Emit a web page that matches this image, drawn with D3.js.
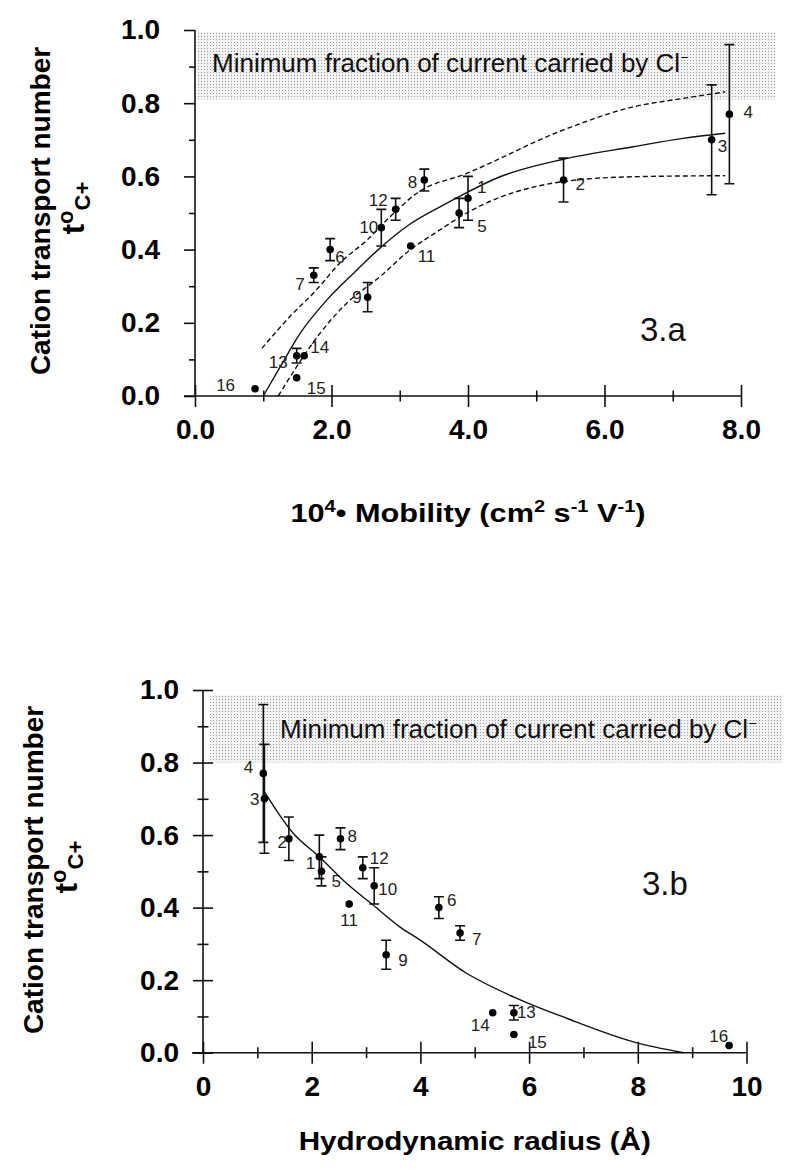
<!DOCTYPE html>
<html>
<head>
<meta charset="utf-8">
<script src="https://cdnjs.cloudflare.com/ajax/libs/d3/7.8.5/d3.min.js"></script>
<style>
  body { margin: 0; background: #fff; }
  text { font-family: Arial, "Liberation Sans", sans-serif; }
</style>
</head>
<body>
<div id="chart"></div>
<script>
// ion numbers and measured transport numbers (same for both panels)
var ionIds = [1, 2, 3, 4, 5, 6, 7, 8, 9, 10, 11, 12, 13, 14, 15, 16];
var tCation = [0.54, 0.59, 0.70, 0.77, 0.50, 0.40, 0.33, 0.59, 0.27, 0.46, 0.41, 0.51, 0.11, 0.11, 0.05, 0.02];
var tError = [0.06, 0.06, 0.15, 0.19, 0.04, 0.03, 0.02, 0.03, 0.04, 0.05, 0.005, 0.03, 0.02, 0, 0, 0];

// panel 3.a : mobility (10^4 cm2 s-1 V-1)
var mobility = [4.0, 5.4, 7.57, 7.83, 3.87, 1.98, 1.74, 3.36, 2.53, 2.73, 3.16, 2.94, 1.49, 1.6, 1.49, 0.88];
var fitMobX = [1.0, 1.25, 1.54, 1.93, 2.32, 2.71, 3.1, 3.59, 3.87, 4.47, 5.4, 6.42, 7.15, 7.77];
var fitMobY = [0.0, 0.08, 0.171, 0.262, 0.335, 0.404, 0.463, 0.517, 0.545, 0.599, 0.647, 0.681, 0.704, 0.718];
var upperMobX = [0.98, 1.39, 1.78, 2.12, 2.52, 2.86, 3.25, 3.98, 5.4, 6.42, 7.15, 7.77];
var upperMobY = [0.13, 0.217, 0.29, 0.363, 0.426, 0.49, 0.554, 0.608, 0.727, 0.79, 0.813, 0.831];
var lowerMobX = [1.22, 1.49, 1.83, 2.22, 2.71, 3.15, 3.59, 3.98, 5.4, 6.42, 7.77];
var lowerMobY = [0.0, 0.08, 0.171, 0.253, 0.326, 0.399, 0.454, 0.5, 0.586, 0.599, 0.602];

// panel 3.b : hydrodynamic radius (angstrom)
var radius = [2.14, 1.58, 1.13, 1.11, 2.18, 4.34, 4.73, 2.53, 3.37, 3.15, 2.69, 2.94, 5.72, 5.33, 5.72, 9.68];
var fitRadX = [1.11, 1.66, 2.14, 2.64, 3.13, 3.62, 3.99, 4.85, 5.71, 6.69, 7.92, 8.84];
var fitRadY = [0.724, 0.605, 0.54, 0.467, 0.407, 0.347, 0.311, 0.219, 0.154, 0.095, 0.03, 0.0];

// tick labels
var yMajor = [0.0, 0.2, 0.4, 0.6, 0.8, 1.0];
var yMinor = [0.1, 0.3, 0.5, 0.7, 0.9];
var xMajorA = [0, 2, 4, 6, 8];
var xMinorA = [1, 3, 5, 7];
var xMajorB = [0, 2, 4, 6, 8, 10];
var xMinorB = [1, 3, 5, 7, 9];

// shaded band "minimum fraction carried by Cl-"
var bandA = [0.81, 0.995];
var bandB = [0.80, 0.985];

// label offsets for the point numbers (layout only): dx, dy, anchor
var labelPosA = {
  1: [9, -5], 2: [12, 10], 3: [6, 12], 4: [14, 4], 5: [18, 19], 6: [5, 13],
  7: [-9, 15, "end"], 8: [-7, 8, "end"], 9: [-6, 6, "end"], 10: [-3, 5, "end"],
  11: [7, 16], 12: [-8, -3, "end"], 13: [-9, 12, "end"], 14: [6, -3], 15: [10, 16],
  16: [-20, 2, "end"]
};
var labelPosB = {
  1: [-4, 12, "end"], 2: [-2, 9, "end"], 3: [-5, 6, "end"], 4: [-10, 0, "end"],
  5: [10, 16], 6: [8, -2], 7: [12, 12], 8: [7, 3], 9: [12, 11], 10: [4, 9],
  11: [0, 22, "middle"], 12: [7, -4], 13: [3, 5], 14: [-3, 18, "end"], 15: [14, 13],
  16: [-1, -3, "end"]
};

var svg = d3.select("#chart")
  .append("svg")
  .attr("width", 800)
  .attr("height", 1174);

var pat = svg.append("defs").append("pattern")
  .attr("id", "dots")
  .attr("width", 3)
  .attr("height", 3)
  .attr("patternUnits", "userSpaceOnUse");
pat.append("rect").attr("width", 3).attr("height", 3).attr("fill", "#f3f3f3");
pat.append("rect").attr("width", 1).attr("height", 1).attr("fill", "#9c9c9c");

function drawPanel(p) {
  var x = d3.scaleLinear().domain(p.xDomain).range([p.left, p.right]);
  var y = d3.scaleLinear().domain([0, 1]).range([p.bottom, p.top]);
  var g = svg.append("g");

  // band
  g.append("rect")
    .attr("x", x(p.bandX[0]))
    .attr("width", x(p.bandX[1]) - x(p.bandX[0]))
    .attr("y", y(p.band[1]))
    .attr("height", y(p.band[0]) - y(p.band[1]))
    .attr("fill", "url(#dots)");

  var bandText = g.append("text")
    .attr("x", p.bandTextX)
    .attr("y", p.bandTextY)
    .attr("font-size", 26)
    .attr("fill", "#111")
    .text("Minimum fraction of current carried by Cl");
  bandText.append("tspan")
    .attr("dy", -10)
    .attr("font-size", 14)
    .text("\u2212");

  // x axis
  var xAxisMajor = d3.axisBottom(x)
    .tickValues(p.xMajor)
    .tickFormat(p.xFormat)
    .tickSize(11)
    .tickPadding(12);
  var xg = g.append("g")
    .attr("transform", `translate(0, ${p.bottom})`)
    .call(xAxisMajor);
  xg.selectAll(".tick line").attr("y1", -11);

  var xAxisMinor = d3.axisBottom(x).tickValues(p.xMinor).tickFormat("").tickSize(5.5);
  var xgm = g.append("g")
    .attr("transform", `translate(0, ${p.bottom})`)
    .call(xAxisMinor);
  xgm.selectAll(".tick line").attr("y1", -5.5);

  // y axis
  var yAxisMajor = d3.axisLeft(y)
    .tickValues(yMajor)
    .tickFormat(d3.format(".1f"))
    .tickSize(p.yCross ? 10 : 11)
    .tickPadding(p.yCross ? 14 : 24);
  var yg = g.append("g")
    .attr("transform", `translate(${p.left}, 0)`)
    .call(yAxisMajor);
  if (p.yCross) yg.selectAll(".tick line").attr("x1", 10);

  var yAxisMinor = d3.axisLeft(y).tickValues(yMinor).tickFormat("").tickSize(p.yCross ? 5.5 : 6);
  var ygm = g.append("g")
    .attr("transform", `translate(${p.left}, 0)`)
    .call(yAxisMinor);
  if (p.yCross) ygm.selectAll(".tick line").attr("x1", 5.5);

  g.selectAll(".domain").remove();
  g.selectAll(".tick line").attr("stroke", "#111").attr("stroke-width", 1.6);
  g.selectAll(".tick text")
    .attr("font-size", 28)
    .attr("font-weight", "bold")
    .attr("fill", "#000")
    .attr("font-family", "Arial, 'Liberation Sans', sans-serif");

  // axis lines
  g.append("line")
    .attr("x1", p.left - 11).attr("x2", p.right)
    .attr("y1", p.bottom).attr("y2", p.bottom)
    .attr("stroke", "#111").attr("stroke-width", 1.6);
  g.append("line")
    .attr("x1", p.left).attr("x2", p.left)
    .attr("y1", p.top).attr("y2", p.bottom)
    .attr("stroke", "#111").attr("stroke-width", 1.6);

  // fitted curves
  var line = d3.line()
    .x((d) => x(d[0]))
    .y((d) => y(d[1]))
    .curve(d3.curveMonotoneX);

  p.curves.forEach((c) => {
    g.append("path")
      .datum(d3.zip(c.xs, c.ys))
      .attr("d", line)
      .attr("fill", "none")
      .attr("stroke", "#111")
      .attr("stroke-width", 1.4)
      .attr("stroke-dasharray", c.dashed ? "5,3" : null);
  });

  // points with error bars
  var pts = ionIds.map((id, i) => ({ id: id, x: p.xs[i], t: tCation[i], e: tError[i] }));
  var errPts = pts.filter((d) => d.e > 0.01);

  g.selectAll(".err")
    .data(errPts)
    .enter()
    .append("path")
    .attr("d", (d) => {
      var cx = x(d.x), y0 = y(d.t - d.e), y1 = y(d.t + d.e);
      return `M${cx - 5},${y0}H${cx + 5}M${cx},${y0}V${y1}M${cx - 5},${y1}H${cx + 5}`;
    })
    .attr("fill", "none")
    .attr("stroke", "#111")
    .attr("stroke-width", 1.6);

  g.selectAll(".dot")
    .data(pts)
    .enter()
    .append("circle")
    .attr("cx", (d) => x(d.x))
    .attr("cy", (d) => y(d.t))
    .attr("r", 3.8)
    .attr("fill", "#000");

  g.selectAll(".plabel")
    .data(pts)
    .enter()
    .append("text")
    .attr("x", (d) => x(d.x) + p.labels[d.id][0])
    .attr("y", (d) => y(d.t) + p.labels[d.id][1])
    .attr("text-anchor", (d) => p.labels[d.id][2] || "start")
    .attr("font-size", 17)
    .attr("fill", "#222")
    .text((d) => d.id);

  // panel tag
  g.append("text")
    .attr("x", p.tagX)
    .attr("y", p.tagY)
    .attr("font-size", 33)
    .attr("fill", "#111")
    .text(p.tag);

  // y title
  g.append("text")
    .attr("transform", `translate(${p.yTitleX}, ${p.yTitleY}) rotate(-90)`)
    .attr("text-anchor", "middle")
    .attr("font-size", 28)
    .attr("font-weight", "bold")
    .text("Cation transport number");

  var tSym = g.append("text")
    .attr("transform", `translate(${p.yTitleX + 34}, ${p.yTitleY - 3}) rotate(-90)`)
    .attr("text-anchor", "middle")
    .attr("font-size", 31)
    .attr("font-weight", "bold")
    .text("t");
  tSym.append("tspan").attr("dy", -11).attr("font-size", 22).text("o");
  tSym.append("tspan").attr("dy", 17).attr("font-size", 22).text("C+");

  // x title, stretched horizontally like the original scan
  var xt = g.append("text")
    .attr("transform", `translate(${(p.left + p.right) / 2}, ${p.xTitleY}) scale(${p.xTitleStretch}, 1)`)
    .attr("text-anchor", "middle")
    .attr("font-size", 26)
    .attr("font-weight", "bold");
  p.xTitle.forEach((part) => {
    xt.append("tspan")
      .attr("dy", part[1])
      .attr("font-size", part[1] < 0 ? 17 : 26)
      .text(part[0]);
  });
}

drawPanel({
  xDomain: [0, 8], left: 195, right: 741, top: 30, bottom: 396,
  xMajor: xMajorA, xMinor: xMinorA, xFormat: d3.format(".1f"),
  yCross: false,
  band: bandA, bandX: [0.03, 8.5], bandTextX: 212, bandTextY: 72,
  xs: mobility, labels: labelPosA,
  curves: [
    { xs: fitMobX, ys: fitMobY, dashed: false },
    { xs: upperMobX, ys: upperMobY, dashed: true },
    { xs: lowerMobX, ys: lowerMobY, dashed: true }
  ],
  tag: "3.a", tagX: 640, tagY: 341,
  yTitleX: 50, yTitleY: 211,
  xTitleY: 522, xTitleStretch: 1.18,
  xTitle: [["10", 0], ["4", -10], ["\u2022 Mobility (cm", 10], ["2", -10], [" s", 10], ["-1", -10], [" V", 10], ["-1", -10], [")", 10]]
});

drawPanel({
  xDomain: [0, 10], left: 203, right: 746.5, top: 690, bottom: 1052.7,
  xMajor: xMajorB, xMinor: xMinorB, xFormat: d3.format("d"),
  yCross: true,
  band: bandB, bandX: [0.13, 10.67], bandTextX: 280, bandTextY: 738,
  xs: radius, labels: labelPosB,
  curves: [
    { xs: fitRadX, ys: fitRadY, dashed: false }
  ],
  tag: "3.b", tagX: 642, tagY: 895,
  yTitleX: 43, yTitleY: 870,
  xTitleY: 1150, xTitleStretch: 1.14,
  xTitle: [["Hydrodynamic radius (\u00c5)", 0]]
});
</script>
</body>
</html>
